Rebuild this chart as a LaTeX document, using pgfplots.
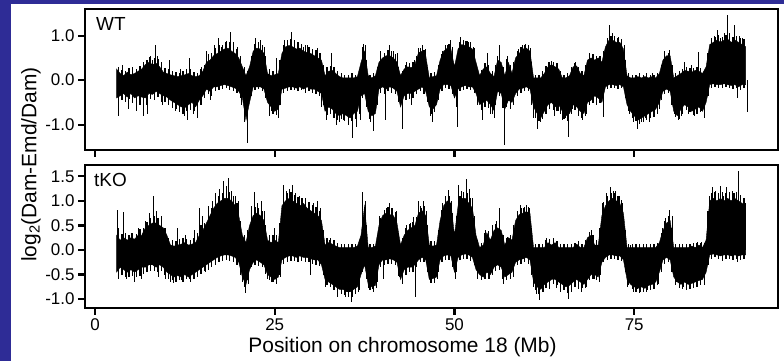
\documentclass[border=0pt]{standalone}
\usepackage{pgfplots}
\pgfplotsset{compat=1.18}
\usepackage{pgfplotstable}
\usepgfplotslibrary{fillbetween}
\usepackage{fontspec}
\setmainfont{Liberation Sans}
\definecolor{bgblue}{RGB}{46,44,150}

\pgfplotstableread{
x hi lo
3.0 0.25 -0.40
3.5 0.15 -0.35
4.0 0.10 -0.30
4.5 0.18 -0.38
5.0 0.12 -0.30
5.5 0.15 -0.40
6.0 0.20 -0.35
6.5 0.25 -0.38
7.0 0.35 -0.40
7.5 0.40 -0.30
8.0 0.35 -0.32
8.5 0.38 -0.25
9.0 0.30 -0.30
9.5 0.18 -0.35
10.0 0.15 -0.38
10.5 0.12 -0.45
11.0 0.10 -0.50
11.5 0.08 -0.55
12.0 0.10 -0.60
12.5 0.12 -0.62
13.0 0.15 -0.55
13.5 0.10 -0.50
14.0 0.08 -0.60
14.5 0.10 -0.45
15.0 0.20 -0.35
15.5 0.40 -0.20
16.0 0.45 -0.25
16.5 0.55 -0.15
17.0 0.60 -0.15
17.5 0.65 -0.12
18.0 0.70 -0.10
18.5 0.72 -0.12
19.0 0.65 -0.15
19.5 0.60 -0.18
20.0 0.50 -0.25
20.5 0.30 -0.40
21.0 0.10 -0.90
21.5 0.30 -0.50
22.0 0.65 -0.15
22.5 0.72 -0.15
23.0 0.70 -0.15
23.5 0.60 -0.20
24.0 0.15 -0.50
24.5 0.10 -0.60
25.0 0.12 -0.70
25.5 0.15 -0.65
26.0 0.60 -0.20
26.5 0.75 -0.18
27.0 0.78 -0.15
27.5 0.75 -0.15
28.0 0.70 -0.18
28.5 0.72 -0.15
29.0 0.65 -0.20
29.5 0.62 -0.15
30.0 0.60 -0.20
30.5 0.55 -0.20
31.0 0.50 -0.25
31.5 0.45 -0.30
32.0 0.10 -0.70
32.5 0.20 -0.60
33.0 0.22 -0.65
33.5 0.15 -0.75
34.0 0.08 -0.80
34.5 0.05 -0.75
35.0 0.05 -0.80
35.5 0.05 -0.85
36.0 0.05 -0.75
36.5 0.08 -0.70
37.0 0.40 -0.35
37.5 0.65 -0.30
38.0 0.10 -0.70
38.5 0.05 -0.80
39.0 0.10 -0.75
39.5 0.40 -0.20
40.0 0.50 -0.15
40.5 0.55 -0.20
41.0 0.55 -0.15
41.5 0.50 -0.18
42.0 0.40 -0.25
42.5 0.10 -0.60
43.0 0.25 -0.35
43.5 0.30 -0.30
44.0 0.28 -0.30
44.5 0.35 -0.25
45.0 0.62 -0.20
45.5 0.65 -0.15
46.0 0.55 -0.25
46.5 0.05 -0.60
47.0 0.08 -0.65
47.5 0.10 -0.55
48.0 0.45 -0.20
48.5 0.65 -0.10
49.0 0.72 -0.10
49.5 0.70 -0.12
50.0 0.30 -0.40
50.5 0.70 -0.20
51.0 0.80 -0.15
51.5 0.78 -0.12
52.0 0.75 -0.15
52.5 0.70 -0.15
53.0 0.40 -0.30
53.5 0.10 -0.55
54.0 0.25 -0.50
54.5 0.30 -0.45
55.0 0.15 -0.55
55.5 0.08 -0.68
56.0 0.45 -0.25
56.5 0.40 -0.30
57.0 0.10 -0.65
57.5 0.40 -0.45
58.0 0.15 -0.50
58.5 0.50 -0.30
59.0 0.60 -0.20
59.5 0.70 -0.18
60.0 0.72 -0.15
60.5 0.65 -0.20
61.0 0.05 -0.60
61.5 0.05 -0.75
62.0 0.05 -0.85
62.5 0.15 -0.70
63.0 0.30 -0.55
63.5 0.35 -0.50
64.0 0.30 -0.60
64.5 0.25 -0.55
65.0 0.05 -0.70
65.5 0.05 -0.80
66.0 0.10 -0.75
66.5 0.30 -0.55
67.0 0.32 -0.60
67.5 0.15 -0.70
68.0 0.10 -0.75
68.5 0.45 -0.50
69.0 0.50 -0.45
69.5 0.45 -0.35
70.0 0.50 -0.40
70.5 0.40 -0.50
71.0 0.75 -0.15
71.5 0.90 -0.10
72.0 0.90 -0.10
72.5 0.85 -0.12
73.0 0.85 -0.10
73.5 0.70 -0.15
74.0 0.10 -0.55
74.5 0.05 -0.70
75.0 0.05 -0.80
75.5 0.08 -0.90
76.0 0.05 -0.85
76.5 0.08 -0.80
77.0 0.05 -0.75
77.5 0.08 -0.70
78.0 0.05 -0.65
78.5 0.15 -0.50
79.0 0.45 -0.25
79.5 0.55 -0.20
80.0 0.55 -0.25
80.5 0.05 -0.70
81.0 0.10 -0.80
81.5 0.15 -0.65
82.0 0.22 -0.55
82.5 0.20 -0.60
83.0 0.18 -0.70
83.5 0.22 -0.65
84.0 0.20 -0.60
84.5 0.15 -0.70
85.0 0.30 -0.50
85.5 0.80 -0.10
86.0 0.85 -0.08
86.5 0.90 -0.10
87.0 0.85 -0.10
87.5 0.90 -0.08
88.0 0.92 -0.10
88.5 0.85 -0.12
89.0 0.90 -0.10
89.5 0.85 -0.15
90.0 0.80 -0.10
90.5 0.75 -0.10
}\wtbody

\pgfplotstableread{
x hi lo
3.25 0.30 -0.55
3.75 0.22 -0.45
4.25 0.20 -0.50
4.75 0.28 -0.42
5.25 0.20 -0.52
5.75 0.25 -0.45
6.25 0.32 -0.55
6.75 0.40 -0.48
7.25 0.45 -0.55
7.75 0.55 -0.42
8.25 0.50 -0.45
8.75 0.48 -0.38
9.25 0.40 -0.48
9.75 0.28 -0.50
10.25 0.25 -0.55
10.75 0.20 -0.62
11.25 0.18 -0.65
11.75 0.15 -0.72
12.25 0.20 -0.75
12.75 0.25 -0.70
13.25 0.25 -0.68
13.75 0.18 -0.70
14.25 0.15 -0.72
14.75 0.25 -0.55
15.25 0.35 -0.40
15.75 0.58 -0.30
16.25 0.62 -0.35
16.75 0.72 -0.25
17.25 0.80 -0.22
17.75 0.78 -0.20
18.25 0.88 -0.18
18.75 0.85 -0.22
19.25 0.78 -0.25
19.75 0.70 -0.28
20.25 0.55 -0.40
20.75 0.30 -0.75
21.25 0.20 -0.85
21.75 0.55 -0.35
22.25 0.82 -0.22
22.75 0.85 -0.20
23.25 0.80 -0.25
23.75 0.55 -0.40
24.25 0.25 -0.70
24.75 0.20 -0.75
25.25 0.25 -0.78
25.75 0.45 -0.55
26.25 0.78 -0.28
26.75 0.90 -0.25
27.25 0.92 -0.22
27.75 0.85 -0.22
28.25 0.85 -0.25
28.75 0.82 -0.22
29.25 0.78 -0.28
29.75 0.75 -0.25
30.25 0.70 -0.28
30.75 0.68 -0.30
31.25 0.62 -0.35
31.75 0.35 -0.55
32.25 0.30 -0.78
32.75 0.32 -0.75
33.25 0.30 -0.85
33.75 0.20 -0.90
34.25 0.15 -0.88
34.75 0.12 -0.92
35.25 0.12 -0.95
35.75 0.15 -0.92
36.25 0.12 -0.88
36.75 0.25 -0.75
37.25 0.75 -0.40
37.75 0.45 -0.60
38.25 0.12 -0.88
38.75 0.15 -0.92
39.25 0.30 -0.55
39.75 0.60 -0.28
40.25 0.62 -0.30
40.75 0.68 -0.25
41.25 0.65 -0.28
41.75 0.58 -0.30
42.25 0.30 -0.50
42.75 0.20 -0.72
43.25 0.35 -0.45
43.75 0.38 -0.42
44.25 0.40 -0.40
44.75 0.55 -0.30
45.25 0.72 -0.25
45.75 0.68 -0.30
46.25 0.30 -0.50
46.75 0.15 -0.75
47.25 0.18 -0.72
47.75 0.35 -0.45
48.25 0.58 -0.25
48.75 0.78 -0.18
49.25 0.82 -0.20
49.75 0.65 -0.30
50.25 0.35 -0.60
50.75 0.85 -0.25
51.25 0.90 -0.22
51.75 0.88 -0.20
52.25 0.85 -0.22
52.75 0.72 -0.28
53.25 0.25 -0.55
53.75 0.22 -0.68
54.25 0.38 -0.60
54.75 0.35 -0.62
55.25 0.20 -0.75
55.75 0.35 -0.55
56.25 0.58 -0.35
56.75 0.30 -0.62
57.25 0.48 -0.60
57.75 0.35 -0.60
58.25 0.40 -0.55
58.75 0.65 -0.35
59.25 0.75 -0.28
59.75 0.80 -0.25
60.25 0.80 -0.25
60.75 0.40 -0.55
61.25 0.12 -0.85
61.75 0.12 -0.92
62.25 0.20 -0.88
62.75 0.32 -0.75
63.25 0.40 -0.65
63.75 0.40 -0.68
64.25 0.38 -0.70
64.75 0.20 -0.75
65.25 0.12 -0.88
65.75 0.15 -0.92
66.25 0.30 -0.75
66.75 0.38 -0.68
67.25 0.30 -0.75
67.75 0.20 -0.85
68.25 0.35 -0.80
68.75 0.55 -0.55
69.25 0.58 -0.52
69.75 0.55 -0.45
70.25 0.55 -0.52
70.75 0.65 -0.45
71.25 0.90 -0.20
71.75 1.00 -0.18
72.25 0.98 -0.18
72.75 0.95 -0.20
73.25 0.92 -0.18
73.75 0.45 -0.40
74.25 0.15 -0.70
74.75 0.12 -0.85
75.25 0.12 -0.92
75.75 0.15 -0.98
76.25 0.12 -0.95
76.75 0.15 -0.90
77.25 0.12 -0.85
77.75 0.12 -0.82
78.25 0.15 -0.75
78.75 0.35 -0.45
79.25 0.58 -0.30
79.75 0.62 -0.28
80.25 0.35 -0.55
80.75 0.15 -0.82
81.25 0.20 -0.88
81.75 0.25 -0.75
82.25 0.30 -0.68
82.75 0.28 -0.72
83.25 0.28 -0.78
83.75 0.30 -0.75
84.25 0.28 -0.72
84.75 0.22 -0.80
85.25 0.60 -0.35
85.75 0.95 -0.18
86.25 0.98 -0.15
86.75 1.02 -0.18
87.25 0.98 -0.18
87.75 1.02 -0.15
88.25 1.00 -0.18
88.75 0.98 -0.20
89.25 1.00 -0.18
89.75 0.95 -0.22
90.25 0.92 -0.18
}\wtmid

\pgfplotstableread{
x y
3.2 -0.80
3.8 0.35
4.6 -0.65
5.2 0.30
5.8 -0.70
6.2 0.25
6.8 -0.80
7.3 -0.75
7.6 0.52
8.0 0.45
8.4 0.79
8.7 0.55
9.4 -0.55
10.4 0.45
11.2 -0.70
11.9 0.25
12.4 -0.80
12.8 -0.90
13.2 0.50
13.7 -0.75
14.3 -0.85
14.8 0.30
15.5 0.65
16.0 -0.45
16.6 0.80
17.2 0.95
17.6 0.75
18.2 0.85
18.8 1.08
19.3 0.85
19.8 0.75
20.3 -0.55
20.8 -0.95
21.2 -1.42
21.7 0.55
22.3 0.94
22.7 0.80
23.0 0.90
23.5 0.75
24.2 -0.80
24.6 -0.70
25.2 0.50
25.5 -0.85
26.4 0.90
26.8 0.85
27.3 1.09
27.8 0.90
28.3 0.85
29.0 0.75
29.6 0.78
30.3 0.70
30.9 0.72
31.3 0.60
31.5 -0.60
32.2 -0.90
32.9 0.60
33.6 -1.00
34.0 -0.95
34.6 -0.90
35.2 -1.00
35.8 -1.30
36.4 -1.05
36.9 -0.90
37.3 0.82
37.6 0.78
38.3 -0.95
38.7 -1.15
39.7 0.65
40.4 -0.90
41.0 0.79
41.5 0.65
42.0 0.60
42.7 -1.10
43.3 0.40
44.0 -0.55
44.4 0.45
45.0 0.72
45.5 0.79
46.0 0.70
46.6 -0.80
46.9 -0.94
48.3 0.65
49.0 0.80
49.4 0.90
49.7 0.75
50.4 -1.05
50.8 0.96
51.2 0.85
51.5 0.88
52.0 0.85
52.6 0.75
53.2 -0.55
53.9 -0.90
54.6 0.60
55.0 -0.75
55.5 -0.85
56.0 0.55
56.3 0.79
56.9 -0.75
57.0 -1.46
57.3 0.55
57.8 -0.65
58.3 0.35
58.9 0.70
59.4 0.80
59.8 0.82
60.3 0.75
60.6 0.72
61.0 -0.85
61.5 -1.09
62.0 -0.95
62.6 -0.75
63.1 0.40
63.5 0.42
63.9 -0.80
64.4 -0.70
65.0 -0.90
65.4 -0.85
65.9 -1.27
66.4 -0.65
66.8 0.40
67.3 -0.80
67.8 -0.90
68.3 -0.75
68.8 0.60
69.3 0.55
69.8 -0.55
70.3 0.55
70.7 -0.83
71.3 0.95
71.6 1.24
71.9 1.05
72.3 1.00
72.8 0.97
73.2 0.90
73.6 0.80
74.3 -0.75
74.9 -0.95
75.5 -1.09
76.0 -0.95
76.6 -0.85
77.1 -0.95
77.5 0.15
77.8 -0.80
78.5 -0.65
79.2 0.65
79.9 0.67
80.6 -0.75
81.1 -0.90
81.6 -0.80
82.0 0.40
82.5 -0.75
83.0 0.35
83.4 -0.80
83.9 0.64
84.4 -0.70
84.8 -0.85
85.3 0.60
85.7 0.95
86.1 1.00
86.6 1.12
87.0 0.95
87.5 1.05
88.0 1.46
88.3 1.05
88.6 0.95
89.0 1.24
89.3 -0.40
89.6 1.00
90.0 0.95
90.3 0.90
90.7 -0.72
}\wtspikes

\pgfplotstableread{
x hi lo
3.0 0.30 -0.45
3.5 0.20 -0.35
4.0 0.25 -0.40
4.5 0.20 -0.45
5.0 0.25 -0.40
5.5 0.22 -0.45
6.0 0.30 -0.40
6.5 0.30 -0.35
7.0 0.45 -0.35
7.5 0.50 -0.30
8.0 0.55 -0.30
8.5 0.55 -0.35
9.0 0.50 -0.30
9.5 0.45 -0.35
10.0 0.30 -0.45
10.5 0.10 -0.50
11.0 0.08 -0.55
11.5 0.10 -0.52
12.0 0.12 -0.55
12.5 0.15 -0.50
13.0 0.10 -0.55
13.5 0.12 -0.50
14.0 0.15 -0.45
14.5 0.30 -0.40
15.0 0.40 -0.35
15.5 0.55 -0.30
16.0 0.70 -0.25
16.5 0.85 -0.20
17.0 0.95 -0.15
17.5 1.00 -0.12
18.0 1.05 -0.10
18.5 1.05 -0.10
19.0 1.00 -0.12
19.5 0.90 -0.15
20.0 0.70 -0.25
20.5 0.30 -0.55
21.0 0.15 -0.70
21.5 0.50 -0.40
22.0 0.70 -0.25
22.5 0.75 -0.20
23.0 0.70 -0.25
23.5 0.60 -0.30
24.0 0.20 -0.50
24.5 0.15 -0.55
25.0 0.20 -0.60
25.5 0.15 -0.55
26.0 0.90 -0.20
26.5 1.00 -0.15
27.0 1.05 -0.12
27.5 1.00 -0.12
28.0 0.95 -0.15
28.5 0.90 -0.12
29.0 0.95 -0.15
29.5 0.85 -0.15
30.0 0.80 -0.18
30.5 0.75 -0.20
31.0 0.70 -0.20
31.5 0.60 -0.30
32.0 0.10 -0.60
32.5 0.15 -0.65
33.0 0.12 -0.70
33.5 0.08 -0.75
34.0 0.05 -0.80
34.5 0.05 -0.80
35.0 0.05 -0.85
35.5 0.05 -0.85
36.0 0.05 -0.80
36.5 0.08 -0.75
37.0 0.30 -0.50
37.5 0.90 -0.30
38.0 0.05 -0.70
38.5 0.05 -0.75
39.0 0.08 -0.72
39.5 0.50 -0.30
40.0 0.70 -0.20
40.5 0.75 -0.20
41.0 0.72 -0.18
41.5 0.70 -0.20
42.0 0.55 -0.25
42.5 0.10 -0.60
43.0 0.30 -0.40
43.5 0.40 -0.35
44.0 0.45 -0.35
44.5 0.50 -0.30
45.0 0.75 -0.20
45.5 0.80 -0.15
46.0 0.70 -0.20
46.5 0.10 -0.60
47.0 0.08 -0.58
47.5 0.10 -0.55
48.0 0.60 -0.20
48.5 0.90 -0.12
49.0 1.00 -0.10
49.5 0.95 -0.12
50.0 0.30 -0.45
50.5 0.90 -0.15
51.0 1.05 -0.10
51.5 1.05 -0.08
52.0 0.95 -0.10
52.5 0.85 -0.15
53.0 0.30 -0.40
53.5 0.05 -0.50
54.0 0.10 -0.55
54.5 0.35 -0.45
55.0 0.20 -0.50
55.5 0.40 -0.35
56.0 0.45 -0.30
56.5 0.40 -0.35
57.0 0.10 -0.55
57.5 0.25 -0.50
58.0 0.20 -0.45
58.5 0.60 -0.25
59.0 0.72 -0.20
59.5 0.75 -0.18
60.0 0.78 -0.15
60.5 0.75 -0.20
61.0 0.05 -0.65
61.5 0.05 -0.75
62.0 0.05 -0.80
62.5 0.05 -0.70
63.0 0.15 -0.65
63.5 0.10 -0.60
64.0 0.15 -0.60
64.5 0.05 -0.65
65.0 0.05 -0.70
65.5 0.05 -0.75
66.0 0.05 -0.72
66.5 0.05 -0.65
67.0 0.12 -0.60
67.5 0.05 -0.65
68.0 0.05 -0.70
68.5 0.25 -0.60
69.0 0.30 -0.50
69.5 0.10 -0.50
70.0 0.10 -0.55
70.5 0.70 -0.25
71.0 0.90 -0.15
71.5 1.00 -0.10
72.0 1.05 -0.10
72.5 1.00 -0.12
73.0 0.95 -0.12
73.5 0.75 -0.20
74.0 0.05 -0.60
74.5 0.05 -0.70
75.0 0.05 -0.75
75.5 0.05 -0.78
76.0 0.05 -0.75
76.5 0.05 -0.78
77.0 0.05 -0.72
77.5 0.05 -0.70
78.0 0.05 -0.65
78.5 0.15 -0.45
79.0 0.40 -0.20
79.5 0.55 -0.15
80.0 0.60 -0.20
80.5 0.05 -0.55
81.0 0.05 -0.65
81.5 0.05 -0.70
82.0 0.05 -0.65
82.5 0.05 -0.70
83.0 0.08 -0.68
83.5 0.05 -0.65
84.0 0.10 -0.62
84.5 0.05 -0.60
85.0 0.20 -0.45
85.5 1.00 -0.10
86.0 1.05 -0.08
86.5 1.00 -0.10
87.0 1.05 -0.12
87.5 1.00 -0.10
88.0 1.05 -0.10
88.5 1.00 -0.12
89.0 1.05 -0.10
89.5 1.00 -0.12
90.0 0.95 -0.10
90.5 0.90 -0.10
}\tkobody

\pgfplotstableread{
x hi lo
3.25 0.45 -0.55
3.75 0.32 -0.50
4.25 0.35 -0.55
4.75 0.30 -0.55
5.25 0.35 -0.52
5.75 0.32 -0.55
6.25 0.42 -0.52
6.75 0.45 -0.48
7.25 0.58 -0.45
7.75 0.65 -0.42
8.25 0.70 -0.42
8.75 0.65 -0.45
9.25 0.62 -0.42
9.75 0.45 -0.50
10.25 0.25 -0.58
10.75 0.20 -0.62
11.25 0.18 -0.65
11.75 0.22 -0.62
12.25 0.25 -0.65
12.75 0.22 -0.60
13.25 0.20 -0.65
13.75 0.25 -0.60
14.25 0.35 -0.55
14.75 0.50 -0.48
15.25 0.55 -0.42
15.75 0.72 -0.40
16.25 0.85 -0.35
16.75 1.00 -0.30
17.25 1.10 -0.25
17.75 1.15 -0.22
18.25 1.20 -0.20
18.75 1.18 -0.22
19.25 1.10 -0.25
19.75 0.95 -0.30
20.25 0.60 -0.50
20.75 0.30 -0.75
21.25 0.40 -0.62
21.75 0.75 -0.35
22.25 0.88 -0.30
22.75 0.85 -0.32
23.25 0.80 -0.35
23.75 0.50 -0.48
24.25 0.30 -0.62
24.75 0.30 -0.65
25.25 0.30 -0.68
25.75 0.55 -0.50
26.25 1.10 -0.28
26.75 1.15 -0.25
27.25 1.18 -0.22
27.75 1.12 -0.22
28.25 1.08 -0.25
28.75 1.05 -0.22
29.25 1.05 -0.25
29.75 0.98 -0.25
30.25 0.92 -0.28
30.75 0.88 -0.30
31.25 0.80 -0.32
31.75 0.40 -0.50
32.25 0.25 -0.72
32.75 0.25 -0.75
33.25 0.20 -0.82
33.75 0.15 -0.88
34.25 0.12 -0.90
34.75 0.12 -0.92
35.25 0.12 -0.95
35.75 0.12 -0.95
36.25 0.12 -0.90
36.75 0.20 -0.82
37.25 0.95 -0.45
37.75 0.50 -0.60
38.25 0.12 -0.82
38.75 0.12 -0.85
39.25 0.30 -0.65
39.75 0.65 -0.35
40.25 0.82 -0.30
40.75 0.88 -0.28
41.25 0.85 -0.28
41.75 0.78 -0.30
42.25 0.35 -0.52
42.75 0.25 -0.70
43.25 0.45 -0.50
43.75 0.52 -0.45
44.25 0.58 -0.45
44.75 0.68 -0.35
45.25 0.90 -0.25
45.75 0.90 -0.25
46.25 0.50 -0.45
46.75 0.18 -0.68
47.25 0.18 -0.68
47.75 0.40 -0.45
48.25 0.82 -0.25
48.75 1.05 -0.20
49.25 1.10 -0.20
49.75 0.75 -0.35
50.25 0.70 -0.45
50.75 1.10 -0.20
51.25 1.18 -0.18
51.75 1.15 -0.18
52.25 1.05 -0.22
52.75 0.70 -0.30
53.25 0.20 -0.58
53.75 0.15 -0.62
54.25 0.35 -0.58
54.75 0.38 -0.58
55.25 0.42 -0.50
55.75 0.52 -0.42
56.25 0.58 -0.40
56.75 0.30 -0.58
57.25 0.25 -0.62
57.75 0.30 -0.58
58.25 0.50 -0.45
58.75 0.78 -0.30
59.25 0.85 -0.28
59.75 0.88 -0.25
60.25 0.88 -0.28
60.75 0.45 -0.50
61.25 0.12 -0.82
61.75 0.12 -0.90
62.25 0.12 -0.85
62.75 0.20 -0.78
63.25 0.22 -0.72
63.75 0.22 -0.70
64.25 0.18 -0.72
64.75 0.12 -0.78
65.25 0.12 -0.82
65.75 0.12 -0.88
66.25 0.12 -0.82
66.75 0.15 -0.75
67.25 0.18 -0.72
67.75 0.12 -0.78
68.25 0.20 -0.78
68.75 0.35 -0.62
69.25 0.30 -0.60
69.75 0.20 -0.62
70.25 0.45 -0.50
70.75 0.98 -0.25
71.25 1.10 -0.20
71.75 1.15 -0.18
72.25 1.15 -0.18
72.75 1.10 -0.20
73.25 1.02 -0.22
73.75 0.40 -0.45
74.25 0.12 -0.72
74.75 0.12 -0.80
75.25 0.12 -0.85
75.75 0.12 -0.88
76.25 0.12 -0.85
76.75 0.12 -0.85
77.25 0.12 -0.82
77.75 0.12 -0.80
78.25 0.15 -0.72
78.75 0.35 -0.45
79.25 0.60 -0.28
79.75 0.70 -0.25
80.25 0.45 -0.45
80.75 0.12 -0.72
81.25 0.12 -0.78
81.75 0.12 -0.80
82.25 0.12 -0.78
82.75 0.12 -0.80
83.25 0.15 -0.78
83.75 0.15 -0.75
84.25 0.15 -0.72
84.75 0.15 -0.70
85.25 0.80 -0.30
85.75 1.15 -0.18
86.25 1.18 -0.15
86.75 1.15 -0.18
87.25 1.18 -0.20
87.75 1.15 -0.18
88.25 1.18 -0.18
88.75 1.15 -0.20
89.25 1.18 -0.18
89.75 1.12 -0.20
90.25 1.05 -0.18
}\tkomid

\pgfplotstableread{
x y
3.1 0.82
3.3 -0.60
3.9 0.78
4.4 -0.60
5.0 0.35
5.5 -0.65
6.0 0.45
6.4 -0.60
7.0 0.60
7.5 0.75
8.1 1.09
8.5 0.80
8.8 -0.55
9.3 0.70
9.8 -0.60
10.5 -0.65
10.9 -0.68
11.5 0.45
12.0 -0.62
12.6 0.30
13.2 -0.60
13.8 0.40
14.5 0.85
14.9 0.70
15.3 -0.45
15.8 0.90
16.3 1.00
16.8 1.15
17.3 1.25
17.8 1.40
18.3 1.30
18.6 1.46
19.0 1.20
19.5 1.10
20.0 1.00
20.5 -0.65
20.9 -0.88
21.3 -0.70
21.8 0.90
22.2 1.19
22.6 0.95
23.1 1.00
23.5 0.80
24.0 -0.60
24.5 -0.65
24.9 0.44
25.3 -0.70
25.8 -0.55
26.2 1.33
26.6 1.20
27.0 1.25
27.4 1.33
27.9 1.15
28.4 1.10
28.9 1.05
29.3 1.00
29.9 -0.50
30.4 0.95
30.9 1.00
31.3 0.85
32.0 -0.75
32.6 0.20
33.1 -0.80
33.7 -0.95
34.3 -0.90
34.8 -0.95
35.3 -0.92
35.7 -1.05
36.2 -0.90
36.7 -0.85
37.2 1.19
37.6 1.00
38.0 -0.78
38.6 -0.80
39.1 -0.78
39.6 0.70
40.1 -0.60
40.6 0.85
41.0 0.95
41.4 0.85
41.9 0.80
42.3 -0.55
42.7 -0.65
43.3 0.50
43.9 0.55
44.3 0.68
44.5 -0.95
45.0 0.99
45.4 0.85
45.7 0.99
46.1 0.80
46.6 -0.65
47.2 0.18
47.6 -0.60
48.3 0.95
48.8 1.10
49.2 1.22
49.6 1.00
50.1 -0.58
50.6 1.33
51.0 1.20
51.6 1.45
52.1 1.25
52.5 1.05
53.2 -0.55
53.8 -0.62
54.3 0.41
54.8 -0.60
55.3 0.50
55.8 0.60
56.2 0.85
56.8 -0.70
57.3 0.27
57.8 0.27
58.2 -0.55
58.7 0.80
59.2 0.92
59.6 0.85
60.0 0.92
60.4 0.85
61.0 -0.75
61.4 -0.90
61.8 -1.02
62.3 -0.85
62.8 0.24
63.2 -0.80
63.7 0.24
64.2 -0.78
64.8 -0.85
65.3 -0.80
65.8 -1.00
66.3 -0.85
66.8 0.10
67.2 -0.80
67.7 -0.85
68.3 -0.75
68.8 0.37
69.0 0.40
69.4 -0.60
70.1 -0.65
70.6 0.95
71.1 1.15
71.7 1.29
72.1 1.20
72.4 1.20
72.9 1.10
73.3 0.95
74.1 -0.75
74.5 0.10
74.9 -0.85
75.4 -0.80
75.8 -0.85
76.3 -0.80
76.8 -0.82
77.3 -0.78
77.8 -0.75
78.4 -0.70
78.9 0.45
79.4 0.65
79.9 0.82
80.3 0.70
80.8 -0.65
81.3 -0.70
81.8 -0.75
82.3 -0.82
82.8 -0.78
83.3 -0.75
83.8 0.17
84.2 -0.70
84.4 0.17
84.8 -0.72
85.4 1.10
85.9 1.29
86.3 1.20
86.7 1.15
87.0 1.30
87.2 -0.22
87.4 1.10
87.8 1.29
88.2 1.10
88.6 1.20
89.0 1.15
89.3 -0.24
89.5 1.60
89.8 1.10
90.2 1.05
90.5 0.95
}\tkospikes

\pgfplotsset{
  chrom/.style={
    scale only axis, width=693bp, anchor=south west,
    xmin=-1.39, xmax=95,
    xtick={0,25,50,75},
    tick align=outside, xtick pos=left, ytick pos=left,
    major tick length=7bp,
    tick style={line width=2.2bp, black},
    axis line style={line width=1.4bp},
    /pgf/number format/assume math mode=true,
    ticklabel style={font=\fontsize{17}{17}\selectfont},
    yticklabel style={/pgf/number format/.cd, fixed, fixed zerofill, precision=1},
  },
  body/.style={draw=black, line width=0.4bp, fill=black},
  midc/.style={ycomb, black, line width=1.3bp, mark=none},
  spk/.style={ycomb, black, line width=0.8bp, mark=none},
}

\begin{document}
\begin{tikzpicture}
\fill[bgblue] (0bp,0bp) rectangle (11bp,361bp);
\fill[bgblue] (0bp,356.5bp) rectangle (784bp,361bp);

% top panel: WT
\begin{axis}[chrom, at={(85bp,211bp)}, height=141bp,
  ymin=-1.57, ymax=1.6, ytick={-1,0,1}, xticklabels={}]
\addplot[draw=none, name path=hiA] table[x=x, y=hi] {\wtbody};
\addplot[draw=none, name path=loA] table[x=x, y=lo] {\wtbody};
\addplot[body] fill between[of=hiA and loA];
\addplot[midc] table[x=x, y=hi] {\wtmid};
\addplot[midc] table[x=x, y=lo] {\wtmid};
\addplot[spk] table[x=x, y=y] {\wtspikes};
\end{axis}

% bottom panel: tKO
\begin{axis}[chrom, at={(85bp,53bp)}, height=143bp,
  ymin=-1.18, ymax=1.73, ytick={-1,-0.5,0,0.5,1,1.5}]
\addplot[draw=none, name path=hiB] table[x=x, y=hi] {\tkobody};
\addplot[draw=none, name path=loB] table[x=x, y=lo] {\tkobody};
\addplot[body] fill between[of=hiB and loB];
\addplot[midc] table[x=x, y=hi] {\tkomid};
\addplot[midc] table[x=x, y=lo] {\tkomid};
\addplot[spk] table[x=x, y=y] {\tkospikes};
\end{axis}

\node[anchor=base west, font=\fontsize{19}{19}\selectfont, inner sep=0] at (96bp,330bp) {WT};
\node[anchor=base west, font=\fontsize{19}{19}\selectfont, inner sep=0] at (94bp,174bp) {tKO};
\node[anchor=base, font=\fontsize{21}{21}\selectfont, inner sep=0] at (402.5bp,9bp) {Position on chromosome 18 (Mb)};
\node[rotate=90, font=\fontsize{21}{21}\selectfont, inner sep=0] at (31bp,196.5bp) {log\textsubscript{2}(Dam-Emd/Dam)};
\end{tikzpicture}
\end{document}
